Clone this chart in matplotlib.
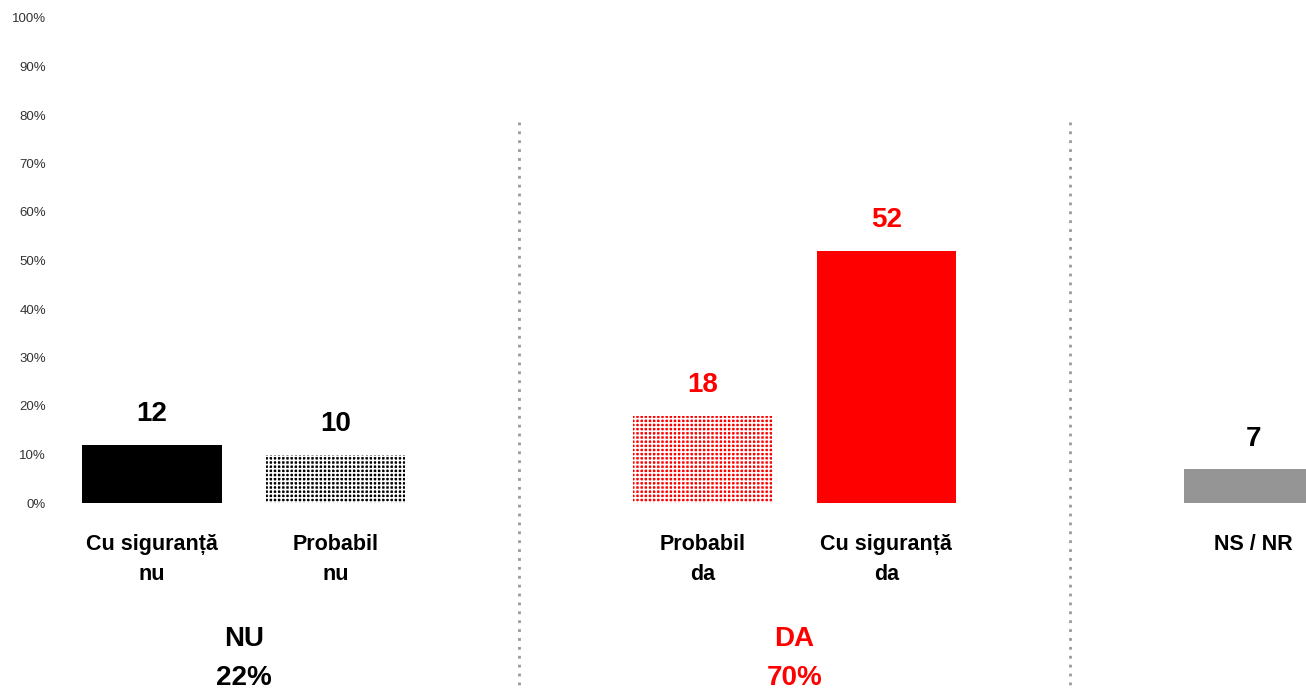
import matplotlib.pyplot as plt

plt.rcParams['font.family'] = ['Liberation Sans', 'DejaVu Sans']
plt.rcParams['hatch.linewidth'] = 1.2

# Data
categories = ['Cu siguranță\nnu', 'Probabil\nnu', 'Probabil\nda', 'Cu siguranță\nda', 'NS / NR']
values = [12, 10, 18, 52, 7]
positions = [0, 1, 3, 4, 6]
groups = ['NU\n22%', 'DA\n70%']
group_pos = [0.5, 3.5]
group_colors = ['black', 'red']
bar_colors = ['black', 'black', 'red', 'red', '#959595']
hatches = [None, '++++', '++++', None, None]
label_colors = ['black', 'black', 'red', 'red', 'black']
separators = [2, 5]

fig = plt.figure(figsize=(13.06, 6.91), dpi=100)
ax = fig.add_axes([60 / 1306, (691 - 503) / 691, 1246 / 1306, 485 / 691])

for x, v, c, h, lc in zip(positions, values, bar_colors, hatches, label_colors):
    if h:
        ax.bar(x, v, width=0.76, color=c, edgecolor='white', linewidth=0, hatch=h)
    else:
        ax.bar(x, v, width=0.76, color=c, linewidth=0)
    ax.text(x, v + 3.6, str(v), ha='center', va='bottom', fontsize=20,
            fontweight='bold', color=lc)

for x, cat in zip(positions, categories):
    ax.text(x, -6.4, cat, ha='center', va='top', fontsize=15.5,
            fontweight='bold', linespacing=1.55, clip_on=False)

for x, g, c in zip(group_pos, groups, group_colors):
    ax.text(x, -25.4, g, ha='center', va='top', fontsize=20,
            fontweight='bold', color=c, linespacing=1.65, clip_on=False)

for s in separators:
    ax.plot([s, s], [78.5, -40], linestyle=(0, (1, 2.2)), color='#999999',
            linewidth=2, clip_on=False)

ax.set_xlim(-0.5, 6.285)
ax.set_ylim(0, 100)
ax.set_yticks(range(0, 101, 10))
ax.set_yticklabels([f'{t}%' for t in range(0, 101, 10)], fontsize=9.5, color='#333333')
ax.set_xticks([])
ax.tick_params(axis='y', length=0, pad=10)
for sp in ax.spines.values():
    sp.set_visible(False)

fig.savefig('out.png', dpi=100)
